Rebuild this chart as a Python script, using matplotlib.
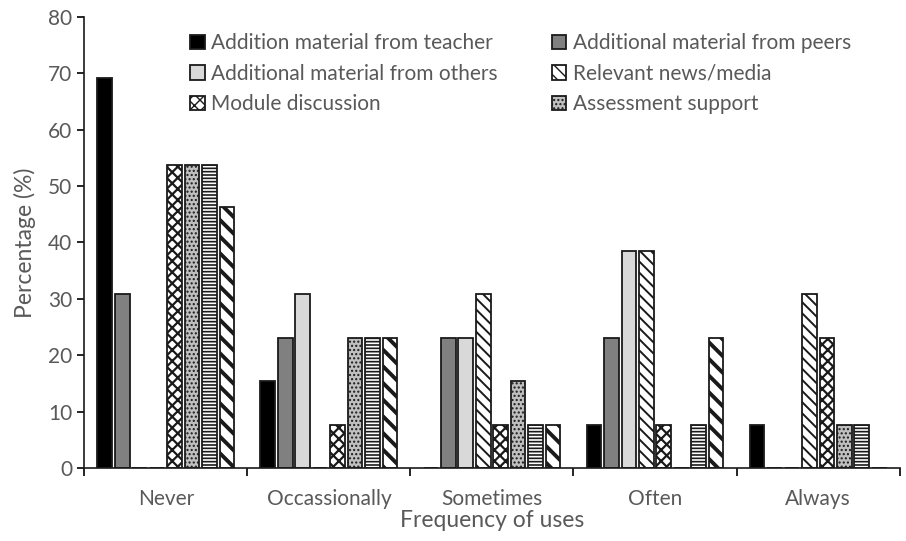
import numpy as np
import matplotlib.pyplot as plt

plt.rcParams['font.family'] = ['Lato', 'DejaVu Sans']

categories = ['Never', 'Occassionally', 'Sometimes', 'Often', 'Always']
series_names = ['Addition material from teacher', 'Additional material from peers',
                'Additional material from others', 'Relevant news/media',
                'Module discussion', 'Assessment support', '_series7', '_series8']

# values per series, order follows categories
teacher = [69.2, 15.4, 0, 7.7, 7.7]
peers = [30.8, 23.1, 23.1, 23.1, 0]
others = [0, 30.8, 23.1, 38.5, 0]
news = [0, 0, 30.8, 38.5, 30.8]
module = [53.8, 7.7, 7.7, 7.7, 23.1]
assess = [53.8, 23.1, 15.4, 0, 7.7]
series7 = [53.8, 23.1, 7.7, 7.7, 7.7]
series8 = [46.2, 23.1, 7.7, 23.1, 0]
values = [teacher, peers, others, news, module, assess, series7, series8]

# fill, hatch, hatch line width
styles = [('black', None, 1.0),
          ('#808080', None, 1.0),
          ('#d9d9d9', None, 1.0),
          ('white', '\\\\\\', 1.4),
          ('white', 'xxx', 1.6),
          ('#bfbfbf', '....', 1.0),
          ('white', '-----', 1.2),
          ('white', '\\\\', 2.8)]

txt = '#595959'
fig = plt.figure(figsize=(9.06, 5.41), dpi=100)
ax = fig.add_axes([0.093, 0.135, 0.9, 0.834])

x = np.arange(len(categories))
step = 0.107
width = 0.09
bars = []
for i, (vals, name, (fc, hatch, hlw)) in enumerate(zip(values, series_names, styles)):
    with plt.rc_context({'hatch.linewidth': hlw, 'hatch.color': 'black'}):
        b = ax.bar(x + (i - 3.5) * step, vals, width, color=fc, edgecolor='#1a1a1a',
                   linewidth=1.3, hatch=hatch, label=name)
    bars.append(b)

ax.set_xlim(-0.5, 4.5)
ax.set_ylim(0, 80)
ax.set_yticks(range(0, 81, 10))
ax.set_xticks(x)
ax.set_xticklabels(categories)
ax.set_xticks(np.arange(-0.5, 4.6, 1), minor=True)
ax.tick_params(axis='x', which='major', length=0, pad=15, labelsize=15, labelcolor=txt)
ax.tick_params(axis='x', which='minor', length=6, width=1.2, direction='out')
ax.tick_params(axis='y', length=5, width=1.2, direction='out', labelsize=15, labelcolor=txt)

for s in ['top', 'right']:
    ax.spines[s].set_visible(False)
for s in ['left', 'bottom']:
    ax.spines[s].set_linewidth(1.2)
    ax.spines[s].set_color('#1a1a1a')

ax.set_xlabel('Frequency of uses', fontsize=16.5, color=txt, labelpad=1)
ax.set_ylabel('Percentage (%)', fontsize=16.5, color=txt, labelpad=9)

# row-wise legend order like the original
order = [0, 2, 4, 1, 3, 5]
leg = ax.legend([bars[k] for k in order], [series_names[k] for k in order],
                ncol=2, loc='upper left', bbox_to_anchor=(0.107, 1.005), frameon=False,
                fontsize=15, handlelength=0.7, handleheight=0.7, handletextpad=0.3,
                columnspacing=2.6, labelspacing=0.5)
for t in leg.get_texts():
    t.set_color(txt)

fig.savefig('out.png', dpi=100)
